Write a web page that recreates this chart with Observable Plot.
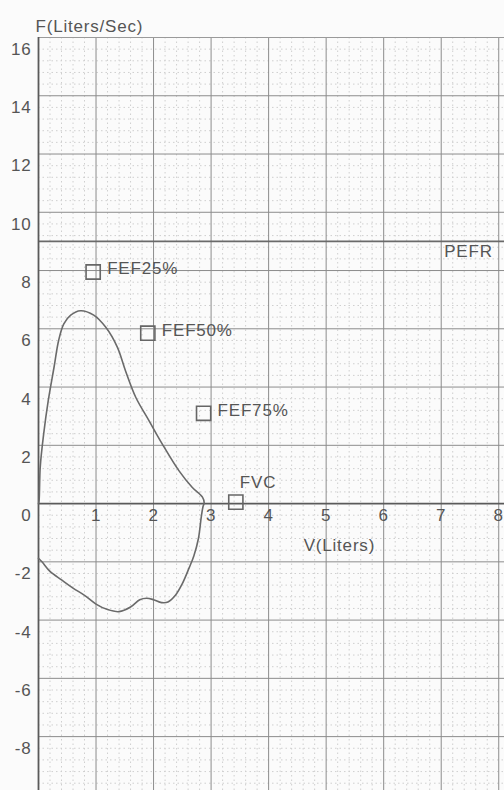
<!DOCTYPE html>
<html><head><meta charset="utf-8">
<script src="https://cdn.jsdelivr.net/npm/d3@7"></script>
<script src="https://cdn.jsdelivr.net/npm/@observablehq/plot@0.6"></script>
<style>
html,body{margin:0;padding:0;background:#fbfbfb;}
#chart svg{display:block;background:#fbfbfb;}
#chart text{letter-spacing:0.8px;}
</style>
</head><body><div id="chart"></div>
<script>
// Expiratory limb (volume L, flow L/s)
const expVolume = [0.0, 0.01, 0.03, 0.09, 0.17, 0.27, 0.35, 0.44, 0.56, 0.73, 0.96, 1.17, 1.37, 1.51, 1.69, 1.92, 2.15, 2.44, 2.67, 2.85, 2.88];
const expFlow   = [0.0, 0.10, 1.25, 2.39, 3.54, 4.68, 5.60, 6.17, 6.47, 6.62, 6.47, 6.05, 5.37, 4.57, 3.65, 2.85, 2.05, 1.13, 0.56, 0.22, 0.02];
// Inspiratory limb
const inspVolume = [2.86, 2.83, 2.78, 2.70, 2.62, 2.50, 2.38, 2.25, 2.14, 2.00, 1.88, 1.76, 1.60, 1.40, 1.20, 1.00, 0.80, 0.60, 0.40, 0.20, 0.06, 0.0];
const inspFlow   = [-0.10, -0.45, -1.20, -1.80, -2.20, -2.75, -3.15, -3.38, -3.40, -3.30, -3.25, -3.30, -3.55, -3.71, -3.64, -3.45, -3.15, -2.90, -2.62, -2.33, -2.00, -1.88];
// Markers
const markerNames  = ["FEF25%", "FEF50%", "FEF75%", "FVC"];
const markerVolume = [0.95, 1.90, 2.87, 3.43];
const markerFlow   = [7.95, 5.85, 3.10, 0.05];
const pefrValue = 9.0;
const pefrLabel = "PEFR";
// Tick labels
const yTickValues = [16, 14, 12, 10, 8, 6, 4, 2, 0, -2, -4, -6, -8];
const xTickValues = [1, 2, 3, 4, 5, 6, 7, 8];
const yTitle = "F(Liters/Sec)";
const xTitle = "V(Liters)";
const xTitleAt = {v: 5.23, f: 0};

const loop = [
  ...expVolume.map((v, i) => ({v, f: expFlow[i]})),
  ...inspVolume.map((v, i) => ({v, f: inspFlow[i]}))
];
const markers = markerNames.map((name, i) => ({name, v: markerVolume[i], f: markerFlow[i]}));

const xMin = 0, xMax = 8.1, yMin = -9.85, yMax = 16;
const minorX = d3.range(0, 8.01, 0.2).filter(d => Math.abs(d - Math.round(d)) > 1e-6);
const minorY = d3.range(-9.6, 16.01, 0.4).filter(d => Math.abs(d/2 - Math.round(d/2)) > 1e-6);
const majorX = d3.range(1, 9, 1);
const majorY = d3.range(-8, 17, 2).filter(d => d !== 0);

const txt = "#555";
const font = "Liberation Sans, Arial, sans-serif";

const chart = Plot.plot({
  width: 504, height: 790,
  marginLeft: 38, marginRight: 0, marginTop: 37, marginBottom: 0,
  x: {domain: [xMin, xMax], axis: null},
  y: {domain: [yMin, yMax], axis: null},
  style: {fontFamily: font, background: "#fbfbfb"},
  marks: [
    Plot.ruleX(minorX, {stroke: "#cfcfcf", strokeWidth: 1, strokeDasharray: "1.5,3"}),
    Plot.ruleY(minorY, {stroke: "#cfcfcf", strokeWidth: 1, strokeDasharray: "1.5,3"}),
    Plot.ruleX(majorX, {stroke: "#8c8c8c", strokeWidth: 1}),
    Plot.ruleY(majorY, {stroke: "#8c8c8c", strokeWidth: 1}),
    Plot.ruleY([yMax], {stroke: "#9a9a9a", strokeWidth: 1}),
    Plot.ruleY([pefrValue], {stroke: "#6a6a6a", strokeWidth: 1.6}),
    Plot.ruleX([0], {stroke: "#5a5a5a", strokeWidth: 1.8}),
    Plot.ruleY([0], {stroke: "#5a5a5a", strokeWidth: 1.8}),
    Plot.line(loop, {x: "v", y: "f", stroke: "#6a6a6a", strokeWidth: 1.6, curve: "catmull-rom"}),
    Plot.dot(markers, {x: "v", y: "f", symbol: "square", r: 8, stroke: "#666", strokeWidth: 1.6, fill: "none"}),
    Plot.text(markers.filter(d => d.name !== "FVC"), {x: "v", y: "f", text: "name", textAnchor: "start", dx: 14, dy: -3, fill: txt, fontSize: 17}),
    Plot.text(markers.filter(d => d.name === "FVC"), {x: "v", y: "f", text: "name", textAnchor: "start", dx: 4, dy: -20, fill: txt, fontSize: 17}),
    Plot.text([pefrLabel], {x: 7, y: pefrValue, textAnchor: "start", dx: 3, dy: 10, fill: txt, fontSize: 17}),
    Plot.text(yTickValues, {x: 0, y: d => d, text: d => String(d), textAnchor: "end", dx: -7, dy: 12, fill: txt, fontSize: 17}),
    Plot.text(xTickValues, {x: d => d, y: 0, text: d => String(d), textAnchor: "middle", dy: 12, fill: txt, fontSize: 17}),
    Plot.text([xTitle], {x: xTitleAt.v, y: xTitleAt.f, textAnchor: "middle", dy: 42, fill: txt, fontSize: 17}),
    Plot.text([yTitle], {frameAnchor: "top-left", textAnchor: "start", dx: -3, dy: -18, fill: txt, fontSize: 17})
  ]
});
document.getElementById("chart").appendChild(chart);
</script>
</body></html>
